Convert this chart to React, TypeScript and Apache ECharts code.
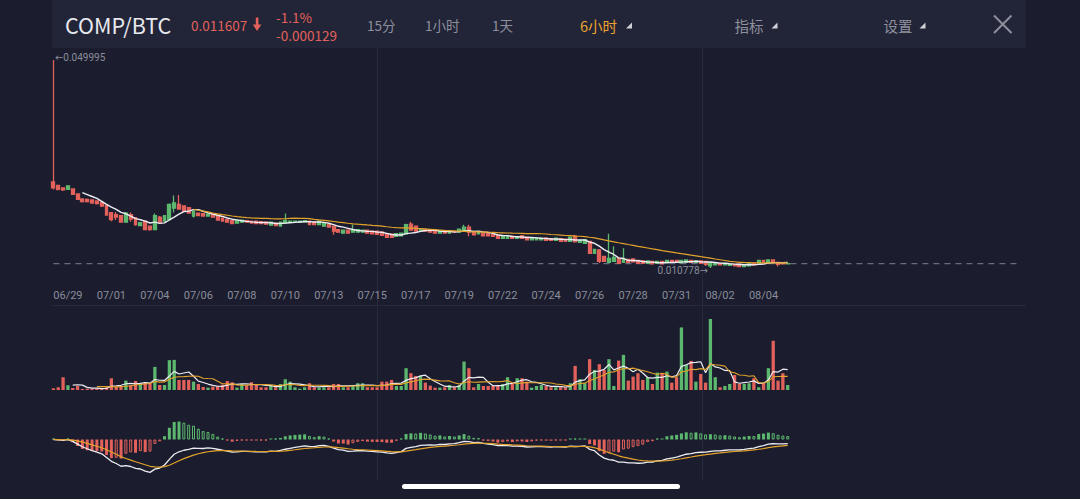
import React, { useEffect, useRef } from 'react';
import * as echarts from 'echarts';

// ---- data ----
const tickLabels = ['06/29', '07/01', '07/04', '07/06', '07/08', '07/10', '07/13', '07/15', '07/17', '07/19', '07/22', '07/24', '07/26', '07/28', '07/31', '08/02', '08/04'];

// [open, close, low, high]
const ohlc: number[][] = [
  [0.027025, 0.025885, 0.0256, 0.049995],
  [0.02636, 0.0256, 0.02541, 0.026455],
  [0.025885, 0.025505, 0.025315, 0.02598],
  [0.0256, 0.026265, 0.025505, 0.02636],
  [0.025695, 0.02465, 0.024555, 0.02579],
  [0.024745, 0.0237, 0.023605, 0.02484],
  [0.023795, 0.02332, 0.02313, 0.02389],
  [0.0237, 0.02332, 0.02313, 0.02389],
  [0.023605, 0.023035, 0.02294, 0.0237],
  [0.023415, 0.02294, 0.02275, 0.02351],
  [0.02313, 0.022465, 0.022275, 0.023225],
  [0.02256, 0.020755, 0.02066, 0.022655],
  [0.02123, 0.0199, 0.019615, 0.021325],
  [0.02085, 0.020375, 0.019805, 0.021325],
  [0.02066, 0.019425, 0.01933, 0.020755],
  [0.019425, 0.021135, 0.01933, 0.021325],
  [0.02085, 0.019995, 0.01952, 0.02123],
  [0.02028, 0.01895, 0.01876, 0.020375],
  [0.01876, 0.01933, 0.018665, 0.019425],
  [0.019615, 0.018, 0.017905, 0.01971],
  [0.018665, 0.018, 0.01781, 0.01876],
  [0.018, 0.02066, 0.017905, 0.02104],
  [0.020375, 0.019425, 0.01933, 0.020565],
  [0.019615, 0.02066, 0.01952, 0.020755],
  [0.0199, 0.02275, 0.019805, 0.02294],
  [0.022085, 0.023035, 0.02123, 0.02446],
  [0.02275, 0.021895, 0.0218, 0.024555],
  [0.022465, 0.021515, 0.02142, 0.02256],
  [0.02218, 0.021135, 0.02104, 0.022275],
  [0.020565, 0.021515, 0.02028, 0.02161],
  [0.021135, 0.02066, 0.020565, 0.02123],
  [0.02104, 0.020565, 0.02047, 0.021135],
  [0.020565, 0.020945, 0.02047, 0.02104],
  [0.020945, 0.020375, 0.02028, 0.02104],
  [0.02066, 0.019805, 0.01971, 0.020755],
  [0.020185, 0.019615, 0.01952, 0.02028],
  [0.0199, 0.019425, 0.01933, 0.019995],
  [0.01971, 0.01914, 0.019045, 0.019805],
  [0.019235, 0.01971, 0.01914, 0.019805],
  [0.019425, 0.019805, 0.01933, 0.0199],
  [0.01971, 0.019425, 0.01933, 0.019805],
  [0.019615, 0.019235, 0.01914, 0.01971],
  [0.019615, 0.01914, 0.019045, 0.01971],
  [0.01952, 0.01914, 0.019045, 0.019615],
  [0.019425, 0.019045, 0.01895, 0.01952],
  [0.018855, 0.019425, 0.01876, 0.01952],
  [0.019235, 0.01876, 0.018665, 0.01933],
  [0.018665, 0.019425, 0.01857, 0.01952],
  [0.019235, 0.01971, 0.01914, 0.02104],
  [0.019425, 0.019615, 0.01933, 0.01971],
  [0.01952, 0.019615, 0.019425, 0.01971],
  [0.019425, 0.019615, 0.01933, 0.01971],
  [0.01952, 0.01971, 0.019425, 0.019805],
  [0.019615, 0.01895, 0.018855, 0.01971],
  [0.019425, 0.01895, 0.018855, 0.01952],
  [0.01895, 0.019615, 0.018855, 0.01971],
  [0.018665, 0.019235, 0.01857, 0.01933],
  [0.01895, 0.018475, 0.01838, 0.019045],
  [0.018665, 0.017715, 0.01705, 0.01876],
  [0.018, 0.017525, 0.01743, 0.018095],
  [0.017335, 0.017905, 0.01724, 0.018],
  [0.017905, 0.017335, 0.01724, 0.018],
  [0.017525, 0.018, 0.01743, 0.01895],
  [0.017525, 0.018, 0.01743, 0.018095],
  [0.017525, 0.017905, 0.01743, 0.018],
  [0.017905, 0.017335, 0.01724, 0.018],
  [0.017715, 0.01724, 0.017145, 0.01781],
  [0.017715, 0.017145, 0.01705, 0.01781],
  [0.017525, 0.016955, 0.01686, 0.01762],
  [0.01724, 0.016575, 0.01648, 0.017335],
  [0.017145, 0.016575, 0.01648, 0.01724],
  [0.016765, 0.01724, 0.01667, 0.017335],
  [0.01686, 0.017335, 0.016765, 0.01743],
  [0.01724, 0.01895, 0.017145, 0.01914],
  [0.019045, 0.017905, 0.01781, 0.01952],
  [0.018665, 0.017715, 0.01762, 0.01876],
  [0.017715, 0.018095, 0.01762, 0.01819],
  [0.018, 0.017715, 0.01762, 0.018095],
  [0.018, 0.017525, 0.01743, 0.018095],
  [0.017905, 0.017335, 0.01724, 0.018],
  [0.017335, 0.01781, 0.01724, 0.017905],
  [0.01781, 0.017335, 0.01724, 0.017905],
  [0.017335, 0.01781, 0.01724, 0.017905],
  [0.017715, 0.017525, 0.01743, 0.01781],
  [0.017525, 0.018095, 0.01743, 0.01819],
  [0.017715, 0.018475, 0.01762, 0.01895],
  [0.018475, 0.017525, 0.016765, 0.01895],
  [0.017525, 0.01705, 0.016955, 0.01762],
  [0.01724, 0.017525, 0.017145, 0.01762],
  [0.017335, 0.01686, 0.016765, 0.01743],
  [0.01724, 0.01686, 0.016765, 0.017335],
  [0.01705, 0.016765, 0.01667, 0.017145],
  [0.016955, 0.016385, 0.01629, 0.01705],
  [0.016385, 0.01686, 0.01629, 0.016955],
  [0.016385, 0.01686, 0.01629, 0.016955],
  [0.016765, 0.016385, 0.01629, 0.01686],
  [0.016385, 0.01667, 0.01629, 0.016765],
  [0.01686, 0.016385, 0.01629, 0.016955],
  [0.016575, 0.0161, 0.016005, 0.01667],
  [0.0161, 0.016385, 0.016005, 0.01648],
  [0.0161, 0.01648, 0.016005, 0.016575],
  [0.0161, 0.016385, 0.016005, 0.01648],
  [0.016385, 0.016005, 0.01591, 0.01648],
  [0.01629, 0.016005, 0.01591, 0.016385],
  [0.016005, 0.016385, 0.01591, 0.01648],
  [0.01629, 0.015815, 0.01572, 0.016385],
  [0.016195, 0.015815, 0.01572, 0.01629],
  [0.015815, 0.016575, 0.01572, 0.01667],
  [0.016765, 0.01572, 0.015625, 0.01705],
  [0.015625, 0.016005, 0.01553, 0.0161],
  [0.015435, 0.0161, 0.01534, 0.016195],
  [0.015815, 0.013535, 0.01344, 0.01591],
  [0.013535, 0.014295, 0.01344, 0.01439],
  [0.0142, 0.012015, 0.01173, 0.014295],
  [0.012965, 0.012015, 0.01192, 0.01306],
  [0.011825, 0.012585, 0.01173, 0.01724],
  [0.012015, 0.012775, 0.01192, 0.014865],
  [0.012585, 0.011635, 0.01154, 0.01268],
  [0.011825, 0.012585, 0.01173, 0.014485],
  [0.012395, 0.011825, 0.01173, 0.01249],
  [0.01249, 0.01192, 0.011825, 0.012585],
  [0.012205, 0.011635, 0.01154, 0.0123],
  [0.01211, 0.011635, 0.01154, 0.012205],
  [0.011635, 0.01211, 0.01154, 0.012205],
  [0.012015, 0.01154, 0.011445, 0.01211],
  [0.011635, 0.012015, 0.01154, 0.01211],
  [0.012015, 0.01154, 0.011445, 0.01211],
  [0.01173, 0.012205, 0.011635, 0.0123],
  [0.012205, 0.011825, 0.01173, 0.0123],
  [0.012205, 0.011825, 0.01173, 0.0123],
  [0.01173, 0.012205, 0.011635, 0.0123],
  [0.011825, 0.0123, 0.01173, 0.012395],
  [0.012205, 0.011825, 0.01173, 0.0123],
  [0.011825, 0.01211, 0.01173, 0.012205],
  [0.01211, 0.011635, 0.01154, 0.012205],
  [0.012015, 0.011445, 0.01116, 0.01211],
  [0.01116, 0.011825, 0.010778, 0.01192],
  [0.01135, 0.011635, 0.011255, 0.01173],
  [0.011635, 0.01135, 0.011255, 0.01173],
  [0.01135, 0.011635, 0.011255, 0.01173],
  [0.011255, 0.011445, 0.01116, 0.01154],
  [0.011445, 0.01116, 0.011065, 0.01154],
  [0.011445, 0.011065, 0.01097, 0.01154],
  [0.011065, 0.011445, 0.01097, 0.01154],
  [0.01116, 0.01154, 0.011065, 0.011635],
  [0.011635, 0.01135, 0.011255, 0.01173],
  [0.011445, 0.012205, 0.01135, 0.0123],
  [0.012205, 0.01192, 0.011825, 0.0123],
  [0.011825, 0.0123, 0.01173, 0.012395],
  [0.0123, 0.011825, 0.01173, 0.012395],
  [0.011825, 0.011445, 0.011065, 0.01192],
  [0.01173, 0.01154, 0.011445, 0.011825],
  [0.01154, 0.011607, 0.011445, 0.011635],
];

const volumes: number[] = [
  42, 68, 318, 118, 50, 100, 25, 33, 33, 42,
  42, 68, 293, 83, 100, 233, 118, 225, 150, 193,
  168, 575, 125, 125, 743, 750, 250, 250, 250, 208,
  150, 75, 58, 83, 100, 133, 225, 193, 58, 150,
  125, 193, 125, 68, 68, 100, 68, 150, 268, 208,
  68, 33, 68, 168, 68, 68, 68, 68, 150, 150,
  68, 68, 125, 168, 168, 68, 68, 68, 208, 208,
  250, 100, 100, 543, 418, 350, 350, 183, 108, 58,
  58, 68, 125, 68, 125, 708, 543, 68, 150, 100,
  100, 100, 100, 150, 318, 168, 293, 293, 208, 58,
  100, 125, 100, 68, 68, 68, 68, 168, 600, 268,
  168, 768, 500, 643, 500, 768, 100, 733, 875, 233,
  333, 418, 250, 318, 150, 433, 418, 458, 183, 318,
  1558, 625, 725, 208, 400, 183, 1768, 318, 68, 100,
  150, 375, 150, 150, 168, 293, 68, 168, 543, 1225,
  233, 418, 125,
];

const priceMax = 0.049995;
const priceMin = 0.010778;
const lastPrice = 0.011607;

// ---- styles ----
const GREEN = '#5cb86e';
const RED = '#e2615b';
const WHITE_LINE = '#ececf2';
const YELLOW_LINE = '#e3a32a';
const GRAY_TEXT = '#8a8d9b';
const SLOTS = 201;

function movingAverage(src: number[], n: number) {
  return src.map((_, i) => {
    if (i < n - 1) return '-';
    let s = 0;
    for (let k = i - n + 1; k <= i; k++) s += src[k];
    return s / n;
  });
}
function ema(src: number[], n: number) {
  const a = 2 / (n + 1);
  const out: number[] = [];
  src.forEach((v, i) => out.push(i === 0 ? v : a * v + (1 - a) * out[i - 1]));
  return out;
}

function buildOption() {
  const categories = Array.from({ length: SLOTS }, (_, i) => 'k' + i);
  const closes = ohlc.map((r) => r[1]);
  const isUp = ohlc.map((r) => r[1] >= r[0]);
  const e12 = ema(closes, 12);
  const e26 = ema(closes, 26);
  const dif = e12.map((v, i) => v - e26[i]);
  const dea = ema(dif, 9);
  const hist = dif.map((v, i) => 2 * (v - dea[i]));
  const M = Math.max(...dif.map(Math.abs), ...dea.map(Math.abs), ...hist.map(Math.abs)) * 1.02;

  let minIdx = 0;
  ohlc.forEach((r, i) => { if (r[2] < ohlc[minIdx][2]) minIdx = i; });
  let maxIdx = 0;
  ohlc.forEach((r, i) => { if (r[3] > ohlc[maxIdx][3]) maxIdx = i; });

  const volData = volumes.map((v, i) => ({ value: v, itemStyle: { color: isUp[i] ? GREEN : RED } }));
  const macdData = hist.map((h, i) => {
    const c = h >= 0 ? GREEN : RED;
    const hollow = i > 0 && Math.abs(h) < Math.abs(hist[i - 1]);
    return {
      value: h,
      itemStyle: hollow ? { color: 'rgba(0,0,0,0)', borderColor: c, borderWidth: 1 } : { color: c },
    };
  });
  const lastPriceLine = categories.map(() => lastPrice);

  const xAxisBase = (gridIndex: number, labels: boolean) => ({
    type: 'category',
    gridIndex,
    data: categories,
    boundaryGap: true,
    axisLine: { show: false },
    axisTick: { show: false },
    splitLine: { show: false },
    axisPointer: { show: false },
    axisLabel: labels
      ? {
          show: true,
          color: GRAY_TEXT,
          fontSize: 11,
          fontFamily: 'Roboto',
          margin: 21.5,
          interval: (idx: number) => idx >= 3 && (idx - 3) % 9 === 0 && (idx - 3) / 9 < tickLabels.length,
          formatter: (_v: string, idx: number) => tickLabels[(idx - 3) / 9] ?? '',
        }
      : { show: false },
  });

  const lineBase = (xi: number, data: any[], color: string, width = 1.2) => ({
    type: 'line',
    xAxisIndex: xi,
    yAxisIndex: xi,
    data,
    showSymbol: false,
    symbol: 'none',
    silent: true,
    lineStyle: { color, width },
    z: 4,
  });

  const headerText = (text: string, x: number, y: number, fill: string, fontSize: number, fontFamily = 'Noto Sans CJK SC') => ({
    type: 'text',
    x,
    y,
    style: { text, fill, fontSize, fontFamily, verticalAlign: 'middle', align: 'left' },
  });

  const gridLine = (x1: number, y1: number, x2: number, y2: number) => ({
    type: 'line',
    z: -1,
    shape: { x1, y1, x2, y2 },
    style: { stroke: '#272a3c', lineWidth: 1 },
  });

  return {
    animation: false,
    backgroundColor: '#1b1d2e',
    grid: [
      { left: 51, width: 971, top: 60, height: 208 },
      { left: 51, width: 971, top: 319, height: 71 },
      { left: 51, width: 971, top: 406, height: 67 },
    ],
    xAxis: [xAxisBase(0, true), xAxisBase(1, false), xAxisBase(2, false)],
    yAxis: [
      { type: 'value', gridIndex: 0, min: priceMin, max: priceMax, show: false },
      { type: 'value', gridIndex: 1, min: 0, max: Math.max(...volumes), show: false },
      { type: 'value', gridIndex: 2, min: -M, max: M, show: false },
    ],
    series: [
      {
        type: 'line',
        xAxisIndex: 0,
        yAxisIndex: 0,
        data: lastPriceLine,
        showSymbol: false,
        symbol: 'none',
        silent: true,
        z: 1,
        lineStyle: { color: '#686c80', type: [6, 5], width: 1.3 },
      },
      {
        type: 'candlestick',
        xAxisIndex: 0,
        yAxisIndex: 0,
        data: ohlc,
        barWidth: '70%',
        z: 3,
        itemStyle: { color: GREEN, color0: RED, borderColor: GREEN, borderColor0: RED, borderWidth: 1.3 },
        markPoint: {
          silent: true,
          symbol: 'circle',
          symbolSize: 1,
          itemStyle: { color: 'rgba(0,0,0,0)' },
          label: { show: true, color: GRAY_TEXT, fontSize: 10, fontFamily: 'Roboto, "DejaVu Sans"' },
          data: [
            {
              coord: [maxIdx, ohlc[maxIdx][3]],
              value: ohlc[maxIdx][3],
              label: { position: 'right', distance: 1, offset: [0, -3], formatter: '←{c}' },
            },
            {
              coord: [minIdx, ohlc[minIdx][2]],
              value: ohlc[minIdx][2],
              label: { position: 'left', distance: 2, offset: [0, 2], formatter: '{c}→' },
            },
          ],
        },
      },
      lineBase(0, movingAverage(closes, 7), WHITE_LINE, 1.4),
      lineBase(0, movingAverage(closes, 30), YELLOW_LINE, 1.2),
      {
        type: 'bar',
        xAxisIndex: 1,
        yAxisIndex: 1,
        data: volData,
        barWidth: '68%',
        silent: true,
      },
      lineBase(1, movingAverage(volumes, 5), WHITE_LINE, 1.2),
      lineBase(1, movingAverage(volumes, 10), YELLOW_LINE, 1.1),
      {
        type: 'bar',
        xAxisIndex: 2,
        yAxisIndex: 2,
        data: macdData,
        barWidth: '62%',
        barMinHeight: 1,
        silent: true,
      },
      lineBase(2, dif, WHITE_LINE, 1.3),
      lineBase(2, dea, YELLOW_LINE, 1.2),
    ],
    graphic: [
      { type: 'rect', z: -2, shape: { x: 52, y: 0, width: 974, height: 48 }, style: { fill: '#222537' } },
      gridLine(377.5, 48, 377.5, 480),
      gridLine(702.5, 48, 702.5, 480),
      gridLine(52, 305.5, 1026, 305.5),
      headerText('COMP/BTC', 65, 24, '#e8e9ef', 21.5),
      headerText('0.011607', 191, 24.5, RED, 13.5),
      { type: 'rect', shape: { x: 255.8, y: 17.5, width: 2.6, height: 8 }, style: { fill: RED } },
      { type: 'polygon', shape: { points: [[252.8, 24.5], [261.4, 24.5], [257.1, 31]] }, style: { fill: RED } },
      headerText('-1.1%', 276, 16.5, RED, 13.5),
      headerText('-0.000129', 276, 34.5, RED, 13.5),
      headerText('15分', 367, 25, '#8e909e', 13.5),
      headerText('1小时', 425, 25, '#8e909e', 13.5),
      headerText('1天', 492, 25, '#8e909e', 13.5),
      headerText('6小时', 580, 25, '#efa32f', 14.5),
      { type: 'polygon', shape: { points: [[632, 22.5], [632, 28.5], [626, 28.5]] }, style: { fill: '#cfd0d8' } },
      headerText('指标', 734.5, 25, '#8e909e', 14.5),
      { type: 'polygon', shape: { points: [[777.5, 22.5], [777.5, 28.5], [771.5, 28.5]] }, style: { fill: '#cfd0d8' } },
      headerText('设置', 883.5, 25, '#8e909e', 14.5),
      { type: 'polygon', shape: { points: [[925.5, 22.5], [925.5, 28.5], [919.5, 28.5]] }, style: { fill: '#cfd0d8' } },
      { type: 'line', shape: { x1: 994, y1: 15.5, x2: 1011.5, y2: 33 }, style: { stroke: '#8e909e', lineWidth: 2 } },
      { type: 'line', shape: { x1: 1011.5, y1: 15.5, x2: 994, y2: 33 }, style: { stroke: '#8e909e', lineWidth: 2 } },
      { type: 'rect', shape: { x: 402, y: 484, width: 278, height: 5, r: 2.5 }, style: { fill: '#ffffff' } },
    ],
  };
}

export default function App() {
  const ref = useRef<HTMLDivElement>(null);
  useEffect(() => {
    const chart = echarts.init(ref.current!, null, { renderer: 'svg' });
    chart.setOption(buildOption() as any);
    return () => chart.dispose();
  }, []);
  return <div ref={ref} style={{ position: 'fixed', left: 0, top: 0, width: 1080, height: 499 }} />;
}
